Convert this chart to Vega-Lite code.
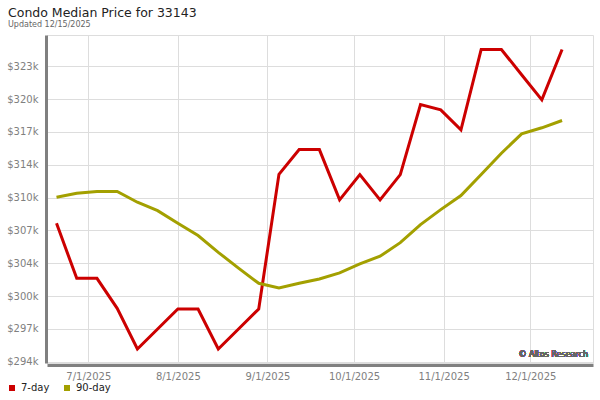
{
  "$schema": "https://vega.github.io/schema/vega-lite/v6.json",
  "width": 546,
  "height": 328,
  "autosize": "none",
  "padding": {"left": 47, "top": 35, "right": 7, "bottom": 37},
  "background": "white",
  "title": {
    "text": "Condo Median Price for 33143",
    "subtitle": "Updated 12/15/2025",
    "anchor": "start",
    "frame": "group",
    "dx": -39,
    "offset": 6,
    "font": "DejaVu Sans",
    "fontSize": 12.5,
    "fontWeight": "normal",
    "color": "#222222",
    "subtitleFont": "DejaVu Sans",
    "subtitleFontSize": 8,
    "subtitleColor": "#666666",
    "subtitlePadding": 2
  },
  "config": {
    "view": {"stroke": "#dddddd", "strokeWidth": 1},
    "font": "DejaVu Sans",
    "axis": {"labelOverlap": false, "labelFlush": false, "labelBound": false}
  },
  "data": {
    "values": [
      {"date": "2025-06-20", "series": "7-day", "price": 307700},
      {"date": "2025-06-27", "series": "7-day", "price": 302250},
      {"date": "2025-07-04", "series": "7-day", "price": 302250},
      {"date": "2025-07-11", "series": "7-day", "price": 299280},
      {"date": "2025-07-18", "series": "7-day", "price": 295260},
      {"date": "2025-07-25", "series": "7-day", "price": 297240},
      {"date": "2025-08-01", "series": "7-day", "price": 299220},
      {"date": "2025-08-08", "series": "7-day", "price": 299220},
      {"date": "2025-08-15", "series": "7-day", "price": 295260},
      {"date": "2025-08-22", "series": "7-day", "price": 297240},
      {"date": "2025-08-29", "series": "7-day", "price": 299220},
      {"date": "2025-09-05", "series": "7-day", "price": 312550},
      {"date": "2025-09-12", "series": "7-day", "price": 315000},
      {"date": "2025-09-19", "series": "7-day", "price": 315000},
      {"date": "2025-09-26", "series": "7-day", "price": 310020},
      {"date": "2025-10-03", "series": "7-day", "price": 312530},
      {"date": "2025-10-10", "series": "7-day", "price": 310020},
      {"date": "2025-10-17", "series": "7-day", "price": 312530},
      {"date": "2025-10-24", "series": "7-day", "price": 319470},
      {"date": "2025-10-31", "series": "7-day", "price": 318940},
      {"date": "2025-11-07", "series": "7-day", "price": 316960},
      {"date": "2025-11-14", "series": "7-day", "price": 324920},
      {"date": "2025-11-21", "series": "7-day", "price": 324920},
      {"date": "2025-11-28", "series": "7-day", "price": 322410},
      {"date": "2025-12-05", "series": "7-day", "price": 319930},
      {"date": "2025-12-12", "series": "7-day", "price": 324920},
      {"date": "2025-06-20", "series": "90-day", "price": 310280},
      {"date": "2025-06-27", "series": "90-day", "price": 310680},
      {"date": "2025-07-04", "series": "90-day", "price": 310850},
      {"date": "2025-07-11", "series": "90-day", "price": 310850},
      {"date": "2025-07-18", "series": "90-day", "price": 309790},
      {"date": "2025-07-25", "series": "90-day", "price": 308960},
      {"date": "2025-08-01", "series": "90-day", "price": 307700},
      {"date": "2025-08-08", "series": "90-day", "price": 306490},
      {"date": "2025-08-15", "series": "90-day", "price": 304830},
      {"date": "2025-08-22", "series": "90-day", "price": 303260},
      {"date": "2025-08-29", "series": "90-day", "price": 301760},
      {"date": "2025-09-05", "series": "90-day", "price": 301310},
      {"date": "2025-09-12", "series": "90-day", "price": 301760},
      {"date": "2025-09-19", "series": "90-day", "price": 302190},
      {"date": "2025-09-26", "series": "90-day", "price": 302790},
      {"date": "2025-10-03", "series": "90-day", "price": 303680},
      {"date": "2025-10-10", "series": "90-day", "price": 304440},
      {"date": "2025-10-17", "series": "90-day", "price": 305790},
      {"date": "2025-10-24", "series": "90-day", "price": 307580},
      {"date": "2025-10-31", "series": "90-day", "price": 309060},
      {"date": "2025-11-07", "series": "90-day", "price": 310450},
      {"date": "2025-11-14", "series": "90-day", "price": 312530},
      {"date": "2025-11-21", "series": "90-day", "price": 314640},
      {"date": "2025-11-28", "series": "90-day", "price": 316560},
      {"date": "2025-12-05", "series": "90-day", "price": 317160},
      {"date": "2025-12-12", "series": "90-day", "price": 317880}
    ]
  },
  "encoding": {
    "x": {
      "field": "date",
      "type": "temporal",
      "scale": {
        "type": "utc",
        "domain": [
          {"year": 2025, "month": 6, "date": 16, "hours": 17, "utc": true},
          {"year": 2025, "month": 12, "date": 22, "hours": 17, "utc": true}
        ]
      },
      "axis": {
        "title": null,
        "values": [
          {"year": 2025, "month": 7, "date": 1, "utc": true},
          {"year": 2025, "month": 8, "date": 1, "utc": true},
          {"year": 2025, "month": 9, "date": 1, "utc": true},
          {"year": 2025, "month": 10, "date": 1, "utc": true},
          {"year": 2025, "month": 11, "date": 1, "utc": true},
          {"year": 2025, "month": 12, "date": 1, "utc": true}
        ],
        "labelExpr": "utcFormat(datum.value, '%-m/%-d/%Y')",
        "labelFontSize": 10,
        "labelColor": "#808080",
        "labelPadding": 6,
        "ticks": false,
        "grid": true,
        "gridColor": "#dddddd",
        "gridWidth": 1,
        "domainColor": "#808080",
        "domainWidth": 3,
        "offset": 2
      }
    },
    "y": {
      "field": "price",
      "type": "quantitative",
      "scale": {"domain": [293870, 326350], "nice": false, "zero": false},
      "axis": {
        "title": null,
        "values": [294000, 297250, 300500, 303750, 307000, 310250, 313500, 316750, 320000, 323250],
        "labelExpr": "datum.value == 300500 ? '$300k' : '$' + round(datum.value / 1000) + 'k'",
        "labelFontSize": 10,
        "labelColor": "#808080",
        "labelPadding": 8,
        "ticks": false,
        "grid": true,
        "gridColor": "#dddddd",
        "gridWidth": 1,
        "domainColor": "#808080",
        "domainWidth": 3,
        "offset": 1
      }
    }
  },
  "layer": [
    {
      "mark": {"type": "line", "strokeWidth": 3, "clip": true},
      "encoding": {
        "color": {
          "field": "series",
          "type": "nominal",
          "scale": {"domain": ["7-day", "90-day"], "range": ["#cc0000", "#a3a000"]},
          "legend": {
            "title": null,
            "orient": "none",
            "direction": "horizontal",
            "legendX": -40,
            "legendY": 348,
            "symbolType": "square",
            "symbolSize": 4,
            "symbolStrokeWidth": 4,
            "labelFontSize": 10,
            "labelColor": "#222222",
            "labelOffset": 4,
            "columnPadding": 8
          }
        }
      }
    },
    {
      "mark": {"type": "text", "align": "right", "baseline": "alphabetic", "fontSize": 8, "color": "#666666"},
      "encoding": {
        "x": {"datum": {"year": 2025, "month": 12, "date": 21, "utc": true}, "type": "temporal"},
        "y": {"datum": 294500, "type": "quantitative"},
        "text": {"value": "© Altos Research"}
      }
    }
  ]
}
